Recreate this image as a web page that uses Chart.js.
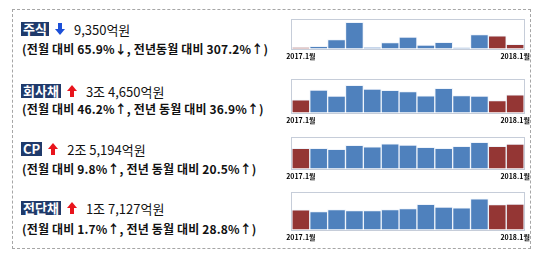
<!DOCTYPE html>
<html>
<head>
<meta charset="utf-8">
<script src="https://cdn.jsdelivr.net/npm/chart.js@4.4.0/dist/chart.umd.min.js"></script>
<style>
body { margin: 0; width: 540px; height: 255px; background: #fff; position: relative; overflow: hidden; font-family: "Noto Sans CJK KR", sans-serif; color: #111; }
.frame { position: absolute; left: 12px; top: 9px; width: 519px; height: 240px; border: 1px dashed #a6a6a6; box-sizing: border-box; }
.row1 { position: absolute; left: 21px; display: flex; align-items: center; height: 16px; }
.tag { background: #1f3a6b; color: #fff; font-weight: bold; font-size: 13px; line-height: 14px; padding: 0 2px; }
.val { font-size: 13px; margin-left: 9px; }
.row2 { position: absolute; left: 22px; font-size: 12px; font-weight: bold; line-height: 16px; white-space: nowrap; letter-spacing: 0.15px; }
.arr { position: relative; width: 10px; height: 12px; margin-left: 6px; }
.arr .head { position: absolute; left: 0; width: 0; height: 0; border-left: 5px solid transparent; border-right: 5px solid transparent; }
.arr .stem { position: absolute; left: 3px; width: 4px; height: 7px; }
.up .head { top: 0; border-bottom: 6px solid #e8141c; }
.up .stem { top: 5px; background: #e8141c; }
.down .head { bottom: 0; border-top: 6px solid #1c4fd8; }
.down .stem { top: 0; background: #1c4fd8; }
canvas { position: absolute; left: 282px; }
</style>
</head>
<body>
<div class="frame"></div>

<div class="row1" style="top:21px"><span class="tag">주식</span><span class="arr down"><i class="stem"></i><i class="head"></i></span><span class="val">9,350억원</span></div>
<div class="row2" style="top:41px">(전월 대비 65.9%↓, 전년동월 대비 307.2%↑)</div>

<div class="row1" style="top:83px"><span class="tag">회사채</span><span class="arr up"><i class="head"></i><i class="stem"></i></span><span class="val">3조 4,650억원</span></div>
<div class="row2" style="top:101px">(전월 대비 46.2%↑, 전년 동월 대비 36.9%↑)</div>

<div class="row1" style="top:141px"><span class="tag">CP</span><span class="arr up"><i class="head"></i><i class="stem"></i></span><span class="val">2조 5,194억원</span></div>
<div class="row2" style="top:161px">(전월 대비 9.8%↑, 전년 동월 대비 20.5%↑)</div>

<div class="row1" style="top:200px"><span class="tag">전단채</span><span class="arr up"><i class="head"></i><i class="stem"></i></span><span class="val">1조 7,127억원</span></div>
<div class="row2" style="top:221px">(전월 대비 1.7%↑, 전년 동월 대비 28.8%↑)</div>

<canvas id="stockChart" width="252" height="51" style="top:16px"></canvas>
<canvas id="bondChart" width="252" height="55" style="top:76px"></canvas>
<canvas id="cpChart" width="252" height="53" style="top:134px"></canvas>
<canvas id="ebChart" width="252" height="59" style="top:189px"></canvas>

<script>
// 월별 발행액 (억원)
const months = ['2017.1월', '2017.2월', '2017.3월', '2017.4월', '2017.5월', '2017.6월', '2017.7월',
    '2017.8월', '2017.9월', '2017.10월', '2017.11월', '2017.12월', '2018.1월'];
const stockValues = [2296, 5000, 19300, 56700, 2500, 13100, 24900, 7500, 13700, 1900, 30500, 27419, 9350];
const bondValues = [25311, 44200, 32200, 53700, 46000, 43600, 41200, 32800, 47800, 33400, 32200, 23700, 34650];
const cpValues = [20908, 20800, 19800, 23900, 22400, 25500, 24300, 22000, 20800, 23000, 27100, 22945, 25194];
const ebValues = [13297, 12100, 13400, 12750, 12750, 13400, 14200, 17100, 15250, 14600, 20700, 16841, 17127];
const highlighted = [0, 11, 12];

const blue = '#4f81bd';
const red = '#943634';

// 플롯 영역 테두리
const frameBorder = {
    id: 'frameBorder',
    afterDraw(chart) {
        const a = chart.chartArea;
        const ctx = chart.ctx;
        ctx.save();
        ctx.strokeStyle = '#c6cdd9';
        ctx.lineWidth = 1;
        ctx.strokeRect(Math.round(a.left) - 0.5, Math.round(a.top) - 0.5, Math.round(a.right - a.left) + 1, Math.round(a.bottom - a.top) + 1);
        ctx.restore();
    }
};

function makeChart(id, values, yMax) {
    const ctx = document.getElementById(id).getContext('2d');
    return new Chart(ctx, {
        type: 'bar',
        data: {
            labels: months,
            datasets: [{
                data: values,
                backgroundColor: values.map((v, i) => highlighted.includes(i) ? red : blue),
                borderColor: 'rgba(235, 241, 250, 0.8)',
                borderWidth: 1,
                barPercentage: 1,
                categoryPercentage: 1
            }]
        },
        options: {
            responsive: false,
            animation: false,
            layout: { padding: { left: 6, right: 8, top: 4, bottom: 2 } },
            plugins: { legend: { display: false }, tooltip: { enabled: false } },
            scales: {
                x: {
                    grid: { display: false, drawTicks: false, tickLength: 0 },
                    border: { display: false },
                    ticks: {
                        autoSkip: false,
                        maxRotation: 0,
                        padding: 4,
                        color: '#000',
                        font: { family: 'Noto Sans CJK KR', size: 7, weight: 'bold' },
                        callback: (v, i) => (i === 0 || i === months.length - 1) ? months[i] : ''
                    }
                },
                y: { display: false, min: 0, max: yMax }
            }
        },
        plugins: [frameBorder]
    });
}

makeChart('stockChart', stockValues, 62000);
makeChart('bondChart', bondValues, 64000);
makeChart('cpChart', cpValues, 31500);
makeChart('ebChart', ebValues, 24650);
</script>
</body>
</html>
